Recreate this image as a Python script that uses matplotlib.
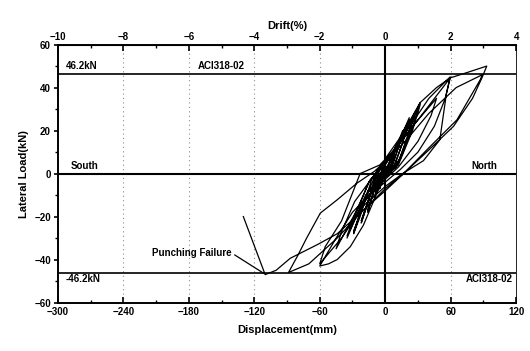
import numpy as np
import matplotlib.pyplot as plt

plt.rcParams['font.family'] = ['Liberation Sans', 'DejaVu Sans']
plt.rcParams['font.weight'] = 'bold'

# hysteresis path (displacement mm, lateral load kN)
disp = [0, 3, 5, 3, 1, -3, -5, -3, -1,
        4, 10, 7, 3, -3, -10, -7, -3, 3, 10, 6, 1, -10, -6, -1,
        6, 16, 12, 6, -6, -16, -11, -5, 6, 16, 10, 3, -8, -16, -9, -2,
        10, 22, 17, 9, -8, -22, -16, -8, 6, 22, 15, 5, -10, -22, -14, -5,
        8, 20, 28, 22, 12, -2, -16, -29, -23, -12, 4, 18, 27, 21, 10, -6, -20, -29, -21, -8,
        6, 18, 32, 26, 14, 0, -18, -35, -28, -15, 2, 14, 25, 32, 25, 12, -6, -22, -35, -27, -14,
        2, 25, 47, 42, 30, 12, -5, -25, -45, -40, -28, -12,
        0, 20, 40, 59.5, 55, 45, 30, 14, 0, -15, -30, -45, -60,
        -52, -44, -32, -20, -10, 1.5, 14, 32, 47, 59.5,
        56, 50, 35, 16, 0, -20, -40, -60, -55, -40, -23,
        -5, 10, 30, 59.5, 75, 93, 89, 80, 62.6, 40, 16.8, 0, -20, -44, -70, -88.6,
        -80, -72, -59.5, -44, -26, -10, 5, 20, 40, 65, 89, 87, 65.7, 40, 16.8,
        0, -20, -44, -62, -87, -100, -110, -130]
load = [0, 4, 7, 3, 0, -3, -7, -3, 0,
        5, 13, 7, 1, -2, -12, -6, 1, 4, 12, 5, -1, -11, -4, 1,
        7, 20, 12, 3, -1, -18, -9, 2, 8, 19, 9, 0, -4, -17, -6, 3,
        12, 26, 16, 4, -1, -23, -14, 1, 9, 25, 13, 0, -5, -22, -10, 3,
        11, 21, 29, 20, 5, -2, -8, -28, -20, -2, 7, 18, 28, 17, 3, -4, -14, -27, -16, 1,
        8, 19, 33, 23, 7, -1, -10, -30, -20, -4, 6, 15, 25, 32, 20, 4, -4, -15, -29, -18, -3,
        6, 22, 35, 27, 15, 3, -5, -16, -35, -27, -13, -2,
        4, 20, 35, 45, 35, 22, 10, 2, -4, -10, -18, -30, -43,
        -42, -40, -34, -24, -12, 8, 17, 33, 40, 44.5,
        37, 15.7, 6, 0, -6, -15, -30, -42, -34, -22, 0,
        4, 12, 25, 44.5, 47, 50, 45, 35, 22, 11, 0, -8, -17, -30, -42, -46,
        -38, -30, -18.4, -12.2, -4.5, 1, 8, 16, 28, 40, 46, 43.6, 25, 12, 0,
        -7, -17, -28, -33, -39.4, -45, -47, -20]

x_ticks = [-300, -240, -180, -120, -60, 0, 60, 120]
y_ticks = [-60, -40, -20, 0, 20, 40, 60]
drift_ticks = [-10, -8, -6, -4, -2, 0, 2, 4]
limit_load = 46.2

fig = plt.figure(figsize=(5.3, 3.51), dpi=100)
ax = fig.add_axes([0.109, 0.138, 0.865, 0.735])

ax.set_xlim(-300, 120)
ax.set_ylim(-60, 60)

# dotted grid on the vertical divisions
for xv in x_ticks:
    if xv not in (0, -300):
        ax.axvline(xv, color='0.55', lw=0.8, ls=(0, (1, 3)), zorder=0)

# reference lines
ax.axhline(limit_load, color='k', lw=1.2)
ax.axhline(-limit_load, color='k', lw=1.2)
ax.axhline(0, color='k', lw=1.5)
ax.axvline(0, color='k', lw=1.5)

ax.plot(disp, load, color='k', lw=0.9)

fs = 7
ax.text(-293, 48.5, '46.2kN', fontsize=fs, fontweight='bold')
ax.text(-150, 48.5, 'ACI318-02', fontsize=fs, fontweight='bold', ha='center')
ax.text(-288, 2, 'South', fontsize=fs, fontweight='bold')
ax.text(103, 2, 'North', fontsize=fs, fontweight='bold', ha='right')
ax.text(-293, -51.5, '-46.2kN', fontsize=fs, fontweight='bold', va='bottom')
ax.text(117, -51.5, 'ACI318-02', fontsize=fs, fontweight='bold', ha='right', va='bottom')
ax.annotate('Punching Failure', xy=(-111, -46.5), xytext=(-177, -37),
            fontsize=fs, fontweight='bold', ha='center', va='center',
            arrowprops=dict(arrowstyle='-', color='k', lw=0.9, shrinkA=0, shrinkB=0,
                            relpos=(1.0, 0.5)))

ax.set_xticks(x_ticks)
ax.set_xticks(np.arange(-270, 120, 60), minor=True)
ax.set_yticks(y_ticks)
ax.set_yticks(np.arange(-50, 60, 20), minor=True)
ax.tick_params(axis='x', which='major', direction='in', length=4, width=1.2, labelsize=7, pad=3)
ax.tick_params(axis='x', which='minor', direction='in', length=2.5, width=1)
ax.tick_params(axis='y', which='major', direction='out', length=3, width=1.2, labelsize=7, pad=2)
ax.tick_params(axis='y', which='minor', direction='out', length=2, width=1)
for lab in ax.get_xticklabels() + ax.get_yticklabels():
    lab.set_fontweight('bold')

for side in ['left', 'bottom', 'top']:
    ax.spines[side].set_linewidth(1.4)
ax.spines['right'].set_linewidth(0.6)

ax.set_xlabel('Displacement(mm)', fontsize=8, fontweight='bold', labelpad=6)
ax.set_ylabel('Lateral Load(kN)', fontsize=8, fontweight='bold', labelpad=4)

top = ax.secondary_xaxis('top', functions=(lambda d: d / 30.0, lambda r: r * 30.0))
top.set_xticks(drift_ticks)
top.set_xticks(np.arange(-9, 4, 2), minor=True)
top.tick_params(which='major', direction='in', length=4, width=1.2, labelsize=7, pad=2)
top.tick_params(which='minor', direction='in', length=2.5, width=1)
for lab in top.get_xticklabels():
    lab.set_fontweight('bold')
top.set_xlabel('Drift(%)', fontsize=8, fontweight='bold', labelpad=2)

fig.savefig('out.png', dpi=100)
